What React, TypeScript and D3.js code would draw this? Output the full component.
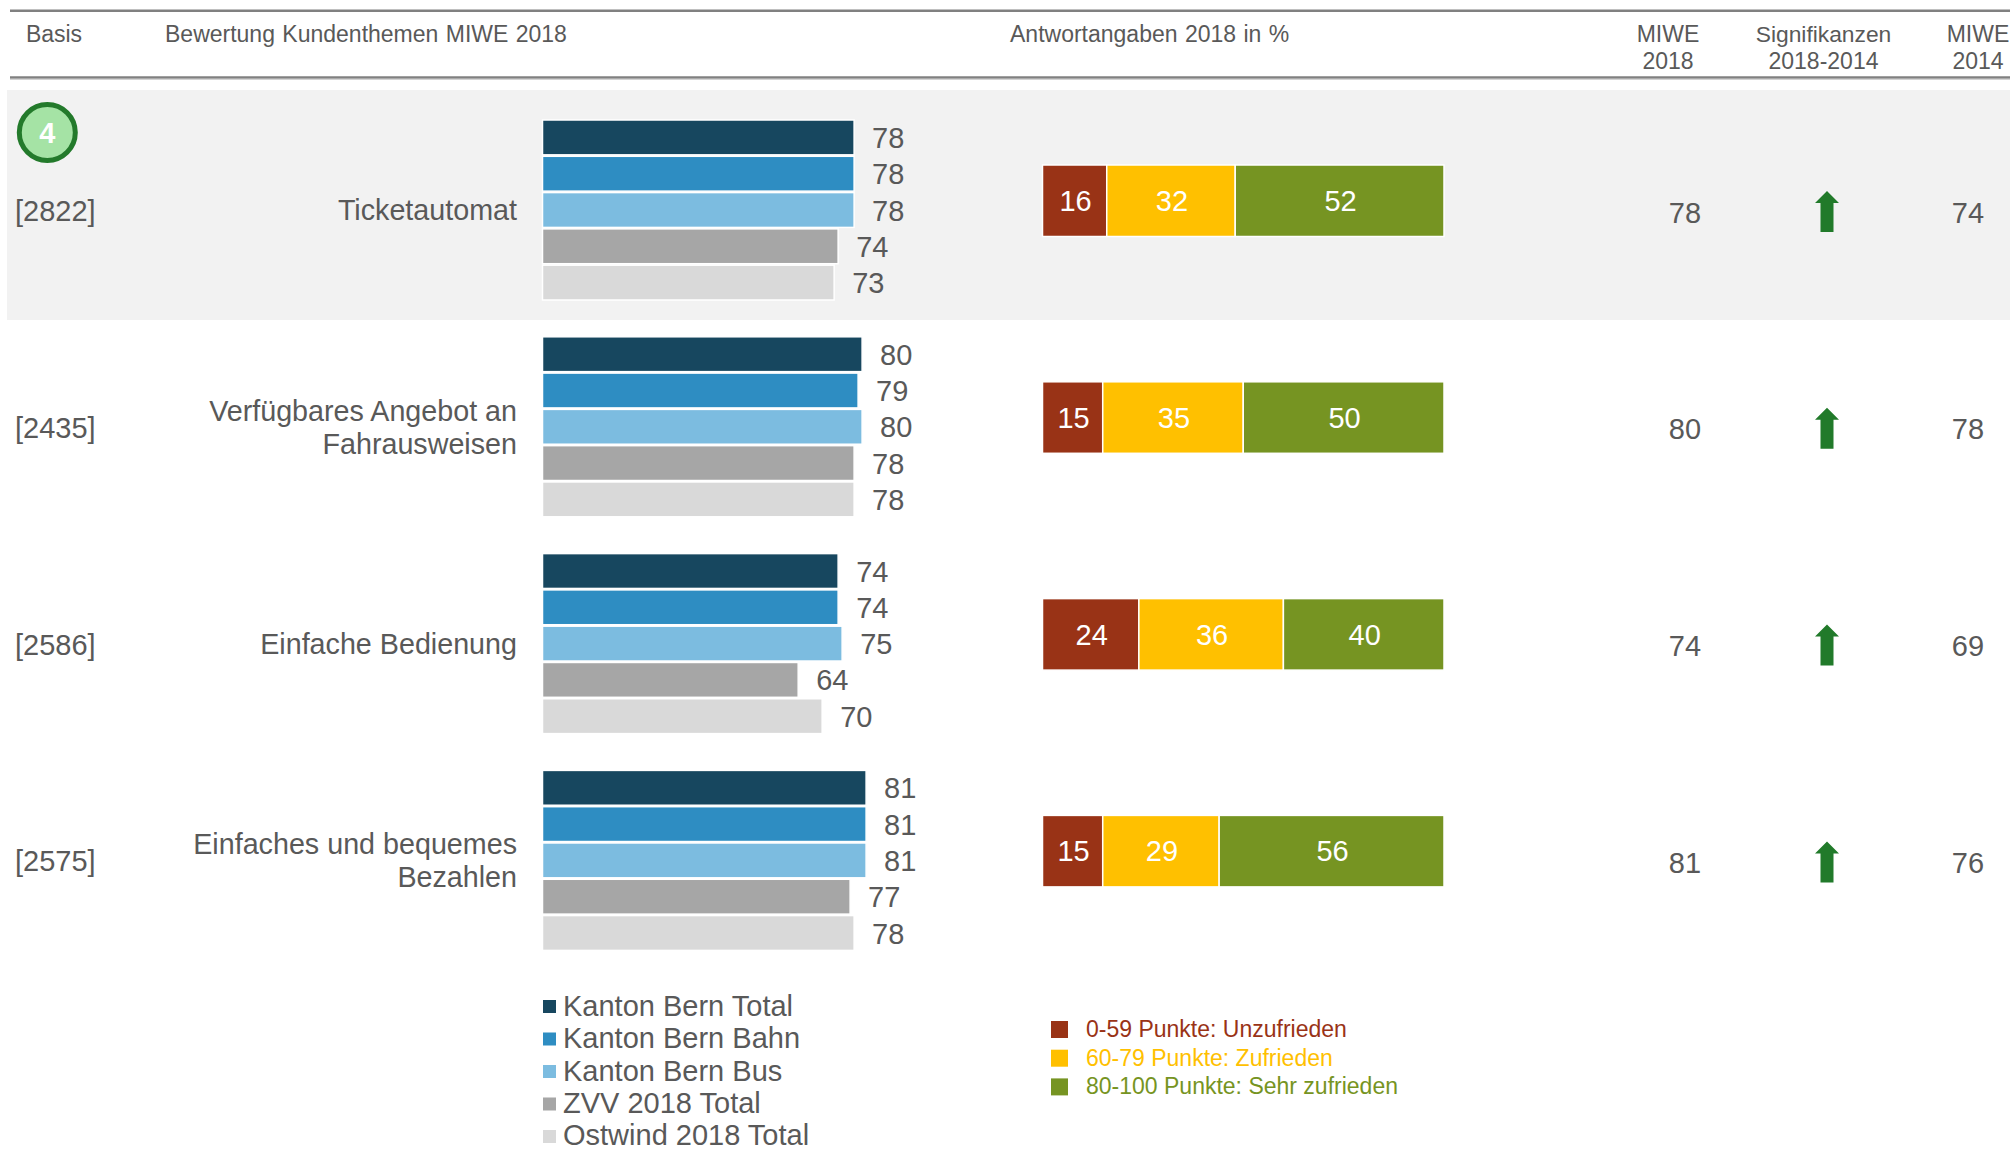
import React from "react";
import * as d3 from "d3";

const seriesNames = ["Kanton Bern Total", "Kanton Bern Bahn", "Kanton Bern Bus", "ZVV 2018 Total", "Ostwind 2018 Total"];
const seriesColors = ["#17475F", "#2E8DC2", "#7CBCE0", "#A6A6A6", "#D9D9D9"];
const basis = ["[2822]", "[2435]", "[2586]", "[2575]"];
const topics = [["Ticketautomat"], ["Verfügbares Angebot an", "Fahrausweisen"], ["Einfache Bedienung"], ["Einfaches und bequemes", "Bezahlen"]];
const ticketValues = [78, 78, 78, 74, 73];
const angebotValues = [80, 79, 80, 78, 78];
const bedienungValues = [74, 74, 75, 64, 70];
const bezahlenValues = [81, 81, 81, 77, 78];
const groupValues = [ticketValues, angebotValues, bedienungValues, bezahlenValues];
const stackValues = [[16, 32, 52], [15, 35, 50], [24, 36, 40], [15, 29, 56]];
const stackColors = ["#993316", "#FFC000", "#769422"];
const stackLegend = ["0-59 Punkte: Unzufrieden", "60-79 Punkte: Zufrieden", "80-100 Punkte: Sehr zufrieden"];
const miwe2018 = [78, 80, 74, 81];
const miwe2014 = [74, 78, 69, 76];

const FONT = "'Liberation Sans', Arial, sans-serif";
const TXT = "#595959";

const rowY = d3.scaleLinear().domain([0, 1]).range([120, 336.8]);
const barX = d3.scaleLinear().domain([0, 100]).range([542.5, 942]);
const barBand = d3.scaleBand<number>().domain([0, 1, 2, 3, 4]).range([0, 180]).paddingInner(0.04).paddingOuter(0);
const stackX = d3.scaleLinear().domain([0, 100]).range([1042.5, 1444]);
const stackSeries = stackValues.map((row) => {
  let acc = 0;
  return row.map((v) => {
    const a = acc;
    acc += v;
    return [a, acc];
  });
});

export default function App() {
  return (
    <svg width={2010} height={1149} style={{ position: "absolute", left: 0, top: 0, display: "block", background: "#fff" }} fontFamily={FONT}>
      <line x1={10} x2={2010} y1={10.7} y2={10.7} stroke="#808080" strokeWidth={2.5} />
      <line x1={10} x2={2010} y1={77.5} y2={77.5} stroke="#808080" strokeWidth={2.5} />
      <line x1={10} x2={2010} y1={79.2} y2={79.2} stroke="#C0C0C0" strokeWidth={1} />
      <rect x={7} y={90} width={2003} height={230} fill="#F2F2F2" />

      <g fontSize={23} fill={TXT} wordSpacing={1}>
        <text x={54} y={42} textAnchor="middle">Basis</text>
        <text x={165} y={42}>Bewertung Kundenthemen MIWE 2018</text>
        <text x={1010} y={42}>Antwortangaben 2018 in %</text>
        <text x={1668} y={42} textAnchor="middle">MIWE</text>
        <text x={1668} y={69} textAnchor="middle">2018</text>
        <text x={1823.5} y={42} textAnchor="middle" fontSize={22.8}>Signifikanzen</text>
        <text x={1823.5} y={69} textAnchor="middle">2018-2014</text>
        <text x={1978} y={42} textAnchor="middle">MIWE</text>
        <text x={1978} y={69} textAnchor="middle">2014</text>
      </g>

      <circle cx={47.3} cy={132.5} r={28} fill="#A5E3A5" stroke="#237A2B" strokeWidth={5} />
      <text x={47.3} y={143} textAnchor="middle" fontSize={29} fontWeight="bold" fill="#fff">4</text>

      {groupValues.map((vals, r) => {
        const top = rowY(r);
        const lines = topics[r];
        return (
          <g key={r}>
            <text x={15} y={top + 101} fontSize={29} fill={TXT}>{basis[r]}</text>
            {lines.map((l, i) => (
              <text key={i} x={517} y={lines.length === 1 ? top + 100 : top + 84 + i * 33} textAnchor="end" fontSize={28.7} fill={TXT}>{l}</text>
            ))}
            {vals.map((v, i) => (
              <g key={i}>
                <rect x={barX(0)} y={top + barBand(i)!} width={barX(v) - barX(0)} height={barBand.bandwidth()} fill={seriesColors[i]} stroke="#fff" strokeWidth={1.5} />
                <text x={barX(v) + 18} y={top + barBand(i)! + 28} fontSize={29} fill={TXT}>{v}</text>
              </g>
            ))}
            {stackSeries[r].map(([a, b], i) => (
              <g key={i}>
                <rect x={stackX(a)} y={top + 45} width={stackX(b) - stackX(a)} height={71.5} fill={stackColors[i]} stroke="#fff" strokeWidth={1.5} />
                <text x={(stackX(a) + stackX(b)) / 2 + 1} y={top + 91} textAnchor="middle" fontSize={29} fill="#fff">{stackValues[r][i]}</text>
              </g>
            ))}
            <text x={1685} y={top + 102.5} textAnchor="middle" fontSize={29} fill={TXT}>{miwe2018[r]}</text>
            <path transform={`translate(1827,${top + 71})`} d="M0,0 L12,12 L6.5,12 L6.5,41 L-6.5,41 L-6.5,12 L-12,12 Z" fill="#217A2A" />
            <text x={1968} y={top + 102.5} textAnchor="middle" fontSize={29} fill={TXT}>{miwe2014[r]}</text>
          </g>
        );
      })}

      {seriesNames.map((n, i) => (
        <g key={n}>
          <rect x={543} y={1000 + i * 32.5} width={13} height={13} fill={seriesColors[i]} />
          <text x={563} y={1016 + i * 32.3} fontSize={29} fill={TXT}>{n}</text>
        </g>
      ))}
      {stackLegend.map((n, i) => (
        <g key={n}>
          <rect x={1051} y={1021 + i * 28.7} width={17} height={17} fill={stackColors[i]} />
          <text x={1086} y={1037 + i * 28.7} fontSize={23} fill={stackColors[i]}>{n}</text>
        </g>
      ))}
    </svg>
  );
}
